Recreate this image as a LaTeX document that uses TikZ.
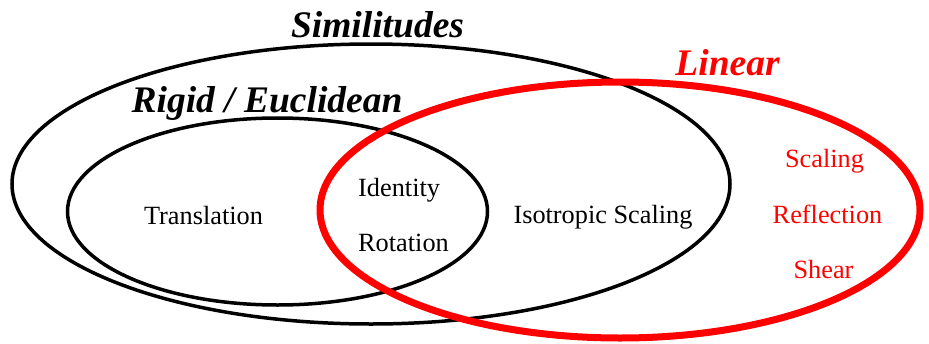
\documentclass[tikz,border=0pt]{standalone}
\usepackage{fontspec}
\setmainfont{Liberation Serif}
\usetikzlibrary{shapes.geometric}
\definecolor{linred}{RGB}{255,0,0}
\begin{document}
\begin{tikzpicture}[x=1pt,y=-1pt,
  setellipse/.style={draw=black, line width=3.5pt, ellipse, inner sep=0pt},
  title/.style={font=\fontsize{37.5}{42}\selectfont\bfseries\itshape, inner sep=0pt, anchor=base},
  item/.style={font=\fontsize{26.3}{30}\selectfont, inner sep=0pt, anchor=base}]
\useasboundingbox (0,0) rectangle (929,343);
\node[setellipse, minimum width=718pt, minimum height=280pt] (simil) at (371,184) {};
\node[setellipse, minimum width=420pt, minimum height=187pt] (rigid) at (277.5,211.5) {};
\node[setellipse, draw=linred, line width=7pt, minimum width=600pt, minimum height=256pt] (linear) at (620,210) {};
\node[title] (tsim) at (377.5,37) {Similitudes};
\node[title] (trig) at (267,112) {Rigid / Euclidean};
\node[title, text=linred] (tlin) at (727.5,75) {Linear};
\node[item] (transl) at (203.5,224) {Translation};
\node[item, anchor=base west] (ident) at (358,196) {Identity};
\node[item, anchor=base west] (rot) at (358,251) {Rotation};
\node[item] (iso) at (603,223) {Isotropic Scaling};
\node[item, text=linred] (scal) at (824.5,167) {Scaling};
\node[item, text=linred] (refl) at (827.5,223) {Reflection};
\node[item, text=linred] (shear) at (823.5,278) {Shear};
\end{tikzpicture}
\end{document}
